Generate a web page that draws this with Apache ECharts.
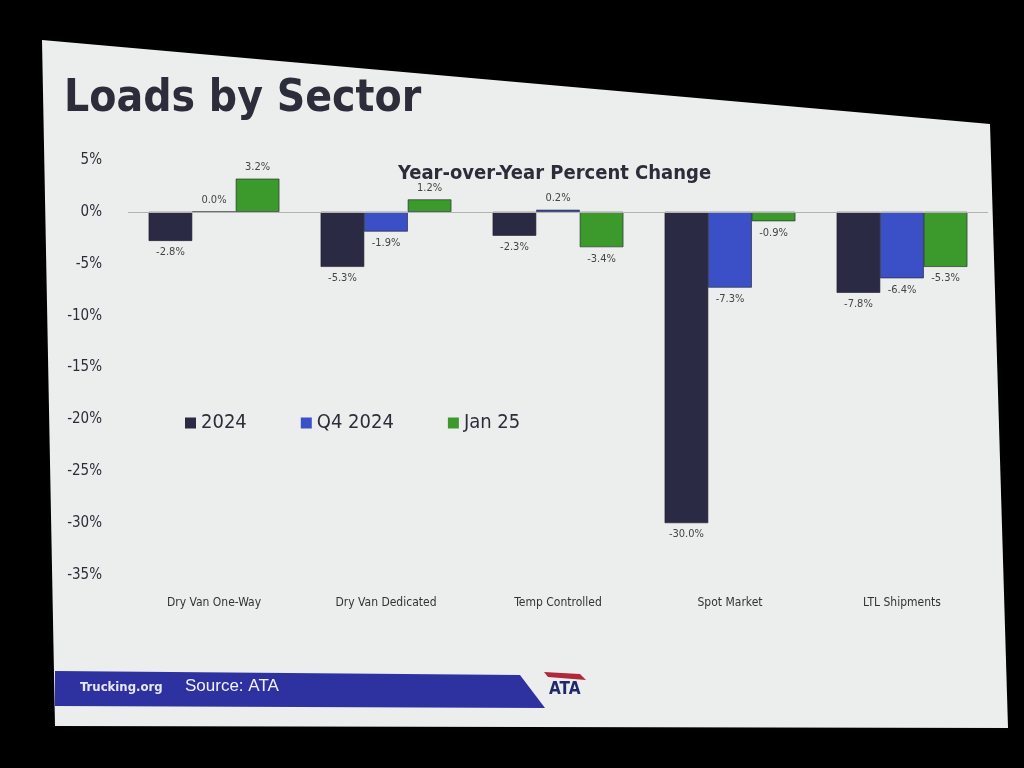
<!DOCTYPE html>
<html>
<head>
<meta charset="utf-8">
<title>Loads by Sector</title>
<script src="https://cdn.jsdelivr.net/npm/echarts@6/dist/echarts.min.js"></script>
<style>
  html, body { margin: 0; padding: 0; background: #000; }
  #main { width: 1024px; height: 768px; }
</style>
</head>
<body>
<div id="main"></div>
<script>
// sectors on the x axis
const sectors = ['Dry Van One-Way', 'Dry Van Dedicated', 'Temp Controlled', 'Spot Market', 'LTL Shipments']
// year-over-year % change per period
const y2024 = [-2.8, -5.3, -2.3, -30.0, -7.8]
const q42024 = [0.0, -1.9, 0.2, -7.3, -6.4]
const jan25 = [3.2, 1.2, -3.4, -0.9, -5.3]
const seriesNames = ['2024', 'Q4 2024', 'Jan 25']
const colors = ['#2a2a44', '#3b4fc6', '#3c9a2c']
// y axis ticks
const yMin = -35
const yMax = 5
const yStep = 5

const chart = echarts.init(document.getElementById('main'))

//正负值标签放上/下
function withLabels(values) {
	return values.map(function (v) {
		return {
			value: v,
			label: { position: v >= 0 ? 'top' : 'bottom' }
		}
	})
}

function makeSeries(name, values, i) {
	var s = {
		name: name,
		type: 'bar',
		data: withLabels(values),
		barGap: '0%',
		barCategoryGap: '24%',
		itemStyle: {
			color: colors[i],
			borderColor: '#1c1c2a',
			borderWidth: 0.6
		},
		label: {
			show: true,
			formatter: function (p) { return p.value.toFixed(1) + '%' },
			fontFamily: 'DejaVu Sans Condensed',
			fontSize: 11,
			color: '#444',
			distance: 6
		}
	}
	//零线
	if (i == 0) {
		s.markLine = {
			silent: true,
			symbol: 'none',
			label: { show: false },
			lineStyle: { color: '#b3b3b3', width: 1, type: 'solid' },
			data: [{ yAxis: 0 }]
		}
	}
	return s
}

var option = {
	backgroundColor: '#000',
	animation: false,
	textStyle: { fontFamily: 'DejaVu Sans' },
	graphic: [
		// slide background
		{
			type: 'polygon',
			z: -10,
			shape: { points: [[42, 40], [990, 124], [1008, 728], [55, 726]] },
			style: { fill: '#eceeed' }
		},
		{
			type: 'text',
			left: 64,
			top: 78,
			style: {
				text: 'Loads by Sector',
				font: 'bold 44px "DejaVu Sans Condensed"',
				fill: '#2b2d3a'
			}
		},
		{
			type: 'text',
			left: 398,
			top: 164,
			style: {
				text: 'Year-over-Year Percent Change',
				font: 'bold 20px "DejaVu Sans Condensed"',
				fill: '#2b2d3a'
			}
		},
		// footer band
		{
			type: 'polygon',
			shape: { points: [[55, 671], [520, 675], [545, 708], [55, 706]] },
			style: { fill: '#2e31a0' }
		},
		{
			type: 'text',
			left: 80,
			top: 681,
			style: { text: 'Trucking.org', font: 'bold 13px "DejaVu Sans Condensed"', fill: '#e8e8f4' }
		},
		{
			type: 'text',
			left: 185,
			top: 678,
			style: { text: 'Source: ATA', font: '17px "Liberation Sans"', fill: '#f2f2f8' }
		},
		{
			type: 'text',
			left: 549,
			top: 681,
			style: { text: 'ATA', font: 'bold 17px "DejaVu Sans Condensed"', fill: '#22286a' }
		},
		{
			type: 'polygon',
			shape: { points: [[544, 672], [580, 674], [586, 680], [548, 677]] },
			style: { fill: '#b0283a' }
		}
	],
	color: colors,
	legend: {
		data: seriesNames,
		left: 180,
		top: 408,
		itemWidth: 11,
		itemHeight: 11,
		itemGap: 54,
		icon: 'rect',
		itemStyle: { borderWidth: 0 },
		textStyle: {
			fontFamily: 'DejaVu Sans Condensed',
			fontSize: 20,
			color: '#2b2d3a'
		}
	},
	grid: {
		left: 128,
		right: 36,
		top: 160,
		bottom: 193
	},
	xAxis: {
		type: 'category',
		data: sectors,
		axisLine: { show: false, onZero: false },
		axisTick: { show: false },
		axisLabel: {
			fontFamily: 'DejaVu Sans Condensed',
			fontSize: 12,
			color: '#333',
			margin: 22
		}
	},
	yAxis: {
		type: 'value',
		min: yMin,
		max: yMax,
		interval: yStep,
		axisLine: { show: false },
		axisTick: { show: false },
		splitLine: { show: false },
		axisLabel: {
			formatter: '{value}%',
			fontFamily: 'DejaVu Sans Condensed',
			fontSize: 15,
			color: '#2b2d3a',
			margin: 26
		}
	},
	series: [
		makeSeries(seriesNames[0], y2024, 0),
		makeSeries(seriesNames[1], q42024, 1),
		makeSeries(seriesNames[2], jan25, 2)
	]
}

chart.setOption(option)
</script>
</body>
</html>
